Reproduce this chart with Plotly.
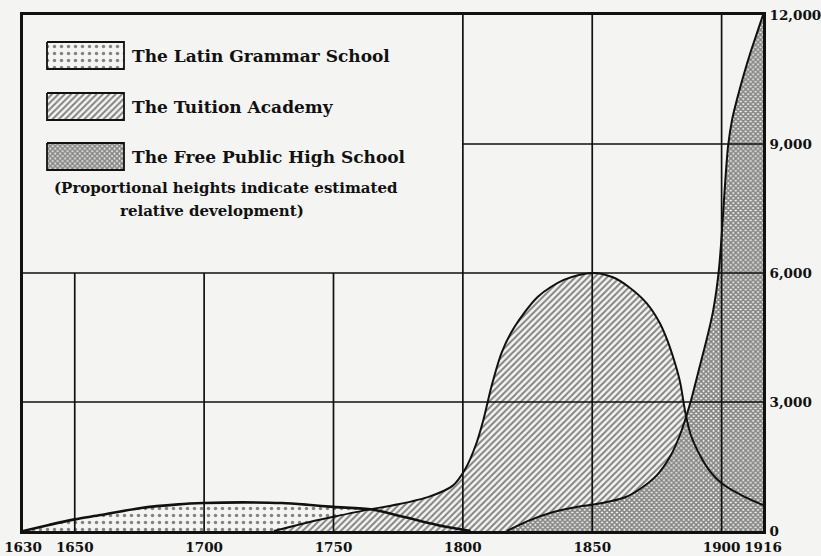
import plotly.graph_objects as go

# --- Estimated relative development of each type of secondary school ---
latin_years = [1630, 1640, 1650, 1660, 1675, 1690, 1700, 1715, 1730, 1740, 1750, 1765, 1777, 1790, 1803]
latin_vals = [0, 140, 270, 370, 530, 620, 650, 665, 650, 610, 560, 500, 330, 140, 0]

academy_years = [1727, 1738, 1750, 1762, 1775, 1787, 1796, 1801, 1805, 1808, 1811, 1815, 1820,
                 1829, 1839, 1850, 1858, 1864, 1871, 1876, 1879, 1882, 1884, 1886, 1888,
                 1892, 1896, 1900, 1908, 1916]
academy_vals = [0, 170, 330, 480, 620, 800, 1050, 1450, 2000, 2600, 3350, 4150, 4750,
                5450, 5840, 6000, 5900, 5680, 5300, 4850, 4440, 3900, 3450, 2750, 2250,
                1720, 1350, 1110, 820, 600]

free_years = [1817, 1825, 1835, 1845, 1850, 1857, 1863, 1869, 1875, 1880, 1884, 1888,
              1891, 1894, 1896.5, 1898, 1899, 1900, 1901.2, 1902.5, 1904, 1906, 1908.5,
              1911, 1913.5, 1916]
free_vals = [0, 230, 440, 570, 610, 690, 790, 1000, 1300, 1720, 2250, 3000,
             3700, 4400, 5050, 5600, 6100, 6850, 7950, 8950, 9550, 10050, 10600,
             11100, 11550, 12000]

year_ticks = [1630, 1650, 1700, 1750, 1800, 1850, 1900, 1916]
value_ticks = [0, 3000, 6000, 9000, 12000]
value_labels = ["0", "3,000", "6,000", "9,000", "12,000"]

series_names = ["The Latin Grammar School", "The Tuition Academy", "The Free Public High School"]
note_lines = ["(Proportional heights indicate estimated", "relative development)"]

# Legend panel occupies the upper-left block of the grid
panel_right_year = 1800
panel_bottom_value = 6000

PAPER = "#f4f4f2"
INK = "#111111"
FONT = "DejaVu Serif"

patterns = [
    dict(shape=".", fgcolor=INK, bgcolor=PAPER, size=7, solidity=0.2),
    dict(shape="/", fgcolor=INK, bgcolor=PAPER, size=4.5, solidity=0.45),
    dict(shape="x", fgcolor=INK, bgcolor=PAPER, size=3.5, solidity=0.7),
]
series = [(latin_years, latin_vals), (academy_years, academy_vals), (free_years, free_vals)]

fig = go.Figure()

# Patterned areas, later series laid over earlier ones
for (xs, ys), pat, name in zip(series, patterns, series_names):
    fig.add_trace(go.Scatter(
        x=xs, y=ys, mode="lines", name=name, fill="tozeroy",
        fillpattern=pat, line=dict(color="rgba(0,0,0,0)", width=0, shape="spline", smoothing=0.8),
        showlegend=False, hoverinfo="skip",
    ))

# Outlines of every curve drawn on top
for (xs, ys), w in zip(series, [2.6, 2.0, 2.0]):
    fig.add_trace(go.Scatter(
        x=xs, y=ys, mode="lines",
        line=dict(color=INK, width=w, shape="spline", smoothing=0.8),
        showlegend=False, hoverinfo="skip",
    ))

# Grid rules (interrupted by the legend panel)
shapes = []
for yr in year_ticks[1:-1]:
    top = panel_bottom_value if yr < panel_right_year else value_ticks[-1]
    shapes.append(dict(type="line", xref="x", yref="y", x0=yr, x1=yr, y0=0, y1=top,
                       line=dict(color=INK, width=1.7), layer="above"))
for v in value_ticks[1:-1]:
    left = panel_right_year if v > panel_bottom_value else year_ticks[0]
    shapes.append(dict(type="line", xref="x", yref="y", x0=left, x1=year_ticks[-1], y0=v, y1=v,
                       line=dict(color=INK, width=1.7), layer="above"))

# Legend swatches on a pixel-like overlay axis
sw_x0, sw_x1 = 47, 124
sw_rows = [(42, 69), (93, 120), (143, 170)]
for (y0, y1), pat in zip(sw_rows, patterns):
    fig.add_trace(go.Scatter(
        x=[sw_x0, sw_x1, sw_x1, sw_x0, sw_x0], y=[y0, y0, y1, y1, y0],
        xaxis="x2", yaxis="y2", mode="lines", fill="toself", fillpattern=pat,
        line=dict(color=INK, width=1.8), showlegend=False, hoverinfo="skip",
    ))

annotations = []
for (y0, y1), name in zip(sw_rows, series_names):
    annotations.append(dict(x=130, y=(y0 + y1) / 2, xref="x2", yref="y2", text="<b>%s</b>" % name,
                            showarrow=False, xanchor="left", yanchor="middle",
                            font=dict(family=FONT, size=17, color=INK)))
for (cx, cy), line in zip([(226, 188), (212, 211)], note_lines):
    annotations.append(dict(x=cx, y=cy, xref="x2", yref="y2", text="<b>%s</b>" % line,
                            showarrow=False, xanchor="center", yanchor="middle",
                            font=dict(family=FONT, size=15, color=INK)))

tick_font = dict(family=FONT, size=13.5, color=INK, weight="bold")

fig.update_layout(
    width=821, height=556,
    margin=dict(l=23, r=58, t=15, b=25),
    paper_bgcolor=PAPER, plot_bgcolor=PAPER,
    shapes=shapes, annotations=annotations,
    xaxis=dict(range=[year_ticks[0], year_ticks[-1]], tickvals=year_ticks,
               ticktext=[str(y) for y in year_ticks], showgrid=False, zeroline=False,
               showline=True, mirror=True, linecolor=INK, linewidth=2.6, ticks="",
               tickfont=tick_font, ticklabelstandoff=2, automargin=False),
    yaxis=dict(range=[0, value_ticks[-1]], tickvals=value_ticks, ticktext=value_labels,
               side="right", showgrid=False, zeroline=False,
               showline=True, mirror=True, linecolor=INK, linewidth=2.6, ticks="",
               tickfont=tick_font, ticklabelstandoff=1, automargin=False),
    xaxis2=dict(overlaying="x", range=[23, 763], visible=False),
    yaxis2=dict(overlaying="y", range=[531, 15], visible=False),
)

fig.write_html("out.html")
